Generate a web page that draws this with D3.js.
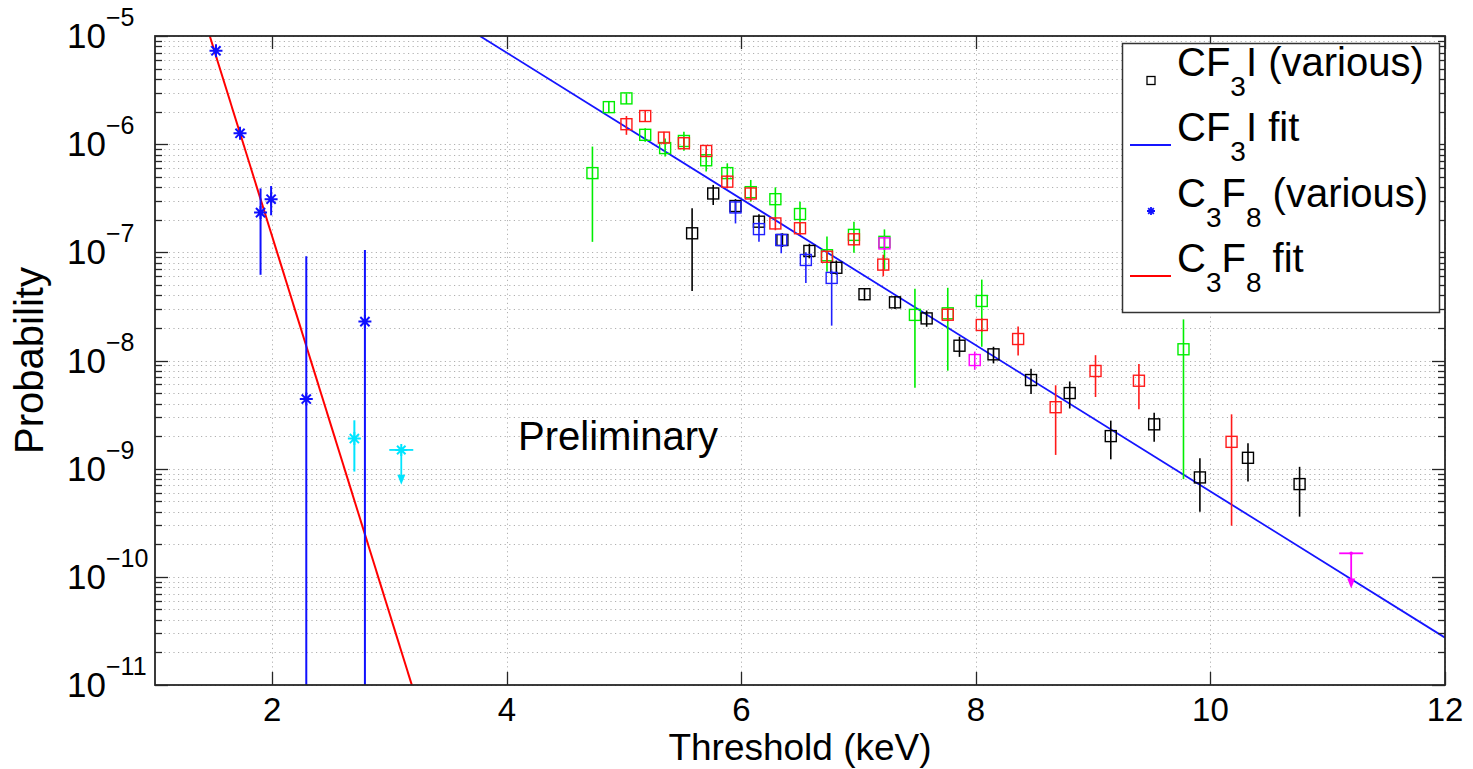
<!DOCTYPE html>
<html><head><meta charset="utf-8">
<script src="https://cdn.jsdelivr.net/npm/d3@7"></script>
<style>body{margin:0;background:#fff} svg{display:block} text{font-family:"Liberation Sans",Arial,Helvetica,sans-serif;fill:#000}</style>
</head><body><svg id="c" width="1473" height="769"></svg>
<script>
// ---------- data ----------
const xTicks = [2, 4, 6, 8, 10, 12];
const yTickExps = [-11, -10, -9, -8, -7, -6, -5];
const xLabel = "Threshold (keV)";
const yLabel = "Probability";
const note = "Preliminary";

// rows: [threshold keV, probability, error low, error high]
const cf3iGreen = [
  [4.73, 5.4e-7, 1.25e-7, 9.5e-7], [4.87, 2.2e-6, 1.95e-6, 2.45e-6], [5.02, 2.65e-6, 2.35e-6, 2.95e-6],
  [5.18, 1.22e-6, 1.05e-6, 1.4e-6], [5.35, 9.2e-7, 7.7e-7, 1.13e-6], [5.51, 1.07e-6, 8.7e-7, 1.3e-6],
  [5.70, 7.1e-7, 5.6e-7, 8.5e-7], [5.88, 5.4e-7, 4.05e-7, 6.65e-7], [6.08, 3.6e-7, 2.94e-7, 4.67e-7],
  [6.29, 3.1e-7, 1.99e-7, 3.99e-7], [6.50, 2.26e-7, 1.5e-7, 2.94e-7], [6.73, 9.4e-8, 6.6e-8, 1.4e-7],
  [6.96, 1.45e-7, 9.9e-8, 1.92e-7], [7.22, 1.25e-7, 6.9e-8, 1.63e-7], [7.48, 2.64e-8, 5.6e-9, 4.6e-8],
  [7.76, 2.73e-8, 8.05e-9, 4.7e-8], [8.05, 3.55e-8, 1.34e-8, 5.6e-8], [9.77, 1.27e-8, 8.0e-10, 2.4e-8]
];
const cf3iRed = [
  [5.02, 1.53e-6, 1.22e-6, 1.82e-6], [5.18, 1.82e-6, 1.6e-6, 2.05e-6], [5.34, 1.15e-6, 1.0e-6, 1.3e-6],
  [5.51, 1.02e-6, 9.0e-7, 1.15e-6], [5.70, 8.65e-7, 7.6e-7, 9.8e-7], [5.88, 4.5e-7, 3.9e-7, 5.2e-7],
  [6.08, 3.5e-7, 3.0e-7, 4.0e-7], [6.29, 1.85e-7, 1.6e-7, 2.1e-7], [6.50, 1.67e-7, 1.45e-7, 1.9e-7],
  [6.73, 9.1e-8, 8.0e-8, 1.03e-7], [6.96, 1.32e-7, 1.15e-7, 1.5e-7], [7.21, 7.7e-8, 6.0e-8, 9.5e-8],
  [7.76, 2.65e-8, 2.3e-8, 3.0e-8], [8.05, 2.13e-8, 1.85e-8, 2.45e-8], [8.36, 1.58e-8, 1.11e-8, 2.06e-8],
  [8.68, 3.7e-9, 1.34e-9, 5.9e-9], [9.02, 8.0e-9, 4.6e-9, 1.12e-8], [9.39, 6.5e-9, 3.54e-9, 9.3e-9],
  [10.18, 1.77e-9, 2.97e-10, 3.18e-9]
];
const cf3iBlack = [
  [5.58, 1.5e-7, 4.4e-8, 2.55e-7], [5.76, 3.5e-7, 2.74e-7, 4.2e-7], [5.95, 2.68e-7, 2.3e-7, 3.1e-7],
  [6.15, 1.92e-7, 1.65e-7, 2.25e-7], [6.35, 1.3e-7, 1.12e-7, 1.5e-7], [6.58, 1.03e-7, 8.8e-8, 1.2e-7],
  [6.81, 7.2e-8, 6.2e-8, 8.4e-8], [7.05, 4.1e-8, 3.6e-8, 4.6e-8], [7.31, 3.45e-8, 3.0e-8, 3.95e-8],
  [7.58, 2.45e-8, 2.05e-8, 2.9e-8], [7.86, 1.37e-8, 1.08e-8, 1.66e-8], [8.15, 1.14e-8, 9.4e-9, 1.34e-8],
  [8.47, 6.6e-9, 4.9e-9, 8.4e-9], [8.80, 5.0e-9, 3.6e-9, 6.4e-9], [9.15, 2.0e-9, 1.22e-9, 2.78e-9],
  [9.52, 2.57e-9, 1.77e-9, 3.29e-9], [9.91, 8.3e-10, 4.0e-10, 1.25e-9], [10.32, 1.26e-9, 7.6e-10, 1.72e-9],
  [10.76, 7.2e-10, 3.6e-10, 1.04e-9]
];
const cf3iBlue = [
  [5.95, 2.6e-7, 1.85e-7, 3.0e-7], [6.15, 1.64e-7, 1.25e-7, 1.9e-7], [6.34, 1.3e-7, 9.8e-8, 1.5e-7],
  [6.55, 8.5e-8, 5.2e-8, 1.0e-7], [6.77, 5.8e-8, 2.1e-8, 6.8e-8]
];
const cf3iMagenta = [
  [7.22, 1.21e-7, 1.05e-7, 1.4e-7], [7.99, 1.01e-8, 8.2e-9, 1.21e-8]
];
const c3f8Blue = [
  [1.52, 7.3e-6, 7.3e-6, 7.3e-6], [1.725, 1.26e-6, 1.26e-6, 1.26e-6], [1.90, 2.33e-7, 6.2e-8, 3.9e-7],
  [1.99, 3.1e-7, 2.2e-7, 4.1e-7], [2.29, 4.4e-9, 1e-12, 9.2e-8], [2.79, 2.29e-8, 1e-12, 1.05e-7]
];
const c3f8Cyan = [[2.70, 1.9e-9, 9.4e-10, 2.8e-9]];
// upper limits: [threshold, limit, arrow tip]
const c3f8CyanLimit = [[3.10, 1.49e-9, 7.1e-10]];
const cf3iMagentaLimit = [[11.20, 1.65e-10, 7.8e-11]];
// fit line end points: [threshold, probability]
const cf3iFit = [[3.77, 1e-5], [12, 2.74e-11]];
const c3f8Fit = [[1.467, 1e-5], [3.19, 1e-11]];

// ---------- drawing ----------
const L = 155, R = 1445, T = 36, B = 685;
const svg = d3.select("#c");
const x = d3.scaleLinear().domain([1, 12]).range([L, R]);
const y = d3.scaleLog().domain([1e-11, 1e-5]).range([B, T]);

svg.append("defs").append("clipPath").attr("id", "clip")
  .append("rect").attr("x", L).attr("y", T).attr("width", R - L).attr("height", B - T);

// grid
const grid = svg.append("g").attr("stroke", "#b0b0b0").attr("stroke-width", 1).attr("stroke-dasharray", "1.2,3.4");
const minorVals = [];
yTickExps.forEach(e => { for (let m = 1; m <= 9; m++) { const v = m * Math.pow(10, e); if (v <= 1.0001e-5 && v >= 0.9999e-11) minorVals.push(v); } });
grid.selectAll("line.h").data(minorVals).join("line")
  .attr("x1", L).attr("x2", R).attr("y1", d => Math.round(y(d)) + 0.5).attr("y2", d => Math.round(y(d)) + 0.5);
grid.selectAll("line.v").data(xTicks).join("line")
  .attr("x1", d => Math.round(x(d)) + 0.5).attr("x2", d => Math.round(x(d)) + 0.5).attr("y1", T).attr("y2", B);

const plot = svg.append("g").attr("clip-path", "url(#clip)");
const line = d3.line().x(d => x(d[0])).y(d => y(d[1]));

function errorBars(data, color, w) {
  plot.append("g").selectAll("line").data(data).join("line")
    .attr("x1", d => x(d[0])).attr("x2", d => x(d[0]))
    .attr("y1", d => y(d[2])).attr("y2", d => y(d[3]))
    .attr("stroke", color).attr("stroke-width", w || 1.6);
}
function squares(data, color) {
  errorBars(data, color);
  plot.append("g").selectAll("rect").data(data).join("rect")
    .attr("x", d => x(d[0]) - 5.5).attr("y", d => y(d[1]) - 5.5)
    .attr("width", 11).attr("height", 11)
    .attr("fill", "none").attr("stroke", color).attr("stroke-width", 1.4);
}
function starPath(r) {
  const a = r * Math.SQRT1_2;
  return `M${-r},0L${r},0M0,${-r}L0,${r}M${-a},${-a}L${a},${a}M${-a},${a}L${a},${-a}`;
}
function stars(data, color, r) {
  errorBars(data, color, 2);
  plot.append("g").selectAll("path").data(data).join("path")
    .attr("transform", d => `translate(${x(d[0])},${y(d[1])})`)
    .attr("d", starPath(r)).attr("stroke", color).attr("stroke-width", 2).attr("fill", "none");
}
function limits(data, color, withStar) {
  const g = plot.append("g");
  data.forEach(d => {
    const cx = x(d[0]), cy = y(d[1]), ty = y(d[2]);
    g.append("line").attr("x1", cx - 12).attr("x2", cx + 12).attr("y1", cy).attr("y2", cy).attr("stroke", color).attr("stroke-width", 1.8);
    g.append("line").attr("x1", cx).attr("x2", cx).attr("y1", cy).attr("y2", ty - 6).attr("stroke", color).attr("stroke-width", 1.8);
    g.append("path").attr("d", `M${cx - 4},${ty - 10}L${cx + 4},${ty - 10}L${cx},${ty}Z`).attr("fill", color);
    if (withStar) g.append("path").attr("transform", `translate(${cx},${cy})`).attr("d", starPath(6)).attr("stroke", color).attr("stroke-width", 2);
    else g.append("circle").attr("cx", cx).attr("cy", cy).attr("r", 1.8).attr("fill", color);
  });
}

// fits
plot.append("path").datum(cf3iFit).attr("d", line).attr("fill", "none").attr("stroke", "#1515ff").attr("stroke-width", 1.8);
plot.append("path").datum(c3f8Fit).attr("d", line).attr("fill", "none").attr("stroke", "#ff0000").attr("stroke-width", 2);

squares(cf3iGreen, "#00ee00");
squares(cf3iRed, "#ff1a1a");
squares(cf3iBlack, "#000000");
squares(cf3iBlue, "#2020ff");
squares(cf3iMagenta, "#ff00ff");
stars(c3f8Blue, "#1010ff", 6.5);
stars(c3f8Cyan, "#00e5ff", 6.5);
limits(c3f8CyanLimit, "#00e5ff", true);
limits(cf3iMagentaLimit, "#ff00ff", false);

// frame and ticks
const ax = svg.append("g").attr("stroke", "#262626").attr("stroke-width", 1.3);
ax.append("rect").attr("x", L).attr("y", T).attr("width", R - L).attr("height", B - T).attr("fill", "none").attr("stroke-width", 1.8);
xTicks.forEach(t => {
  const px = Math.round(x(t)) + 0.5;
  ax.append("line").attr("x1", px).attr("x2", px).attr("y1", B).attr("y2", B - 13);
  ax.append("line").attr("x1", px).attr("x2", px).attr("y1", T).attr("y2", T + 13);
});
minorVals.forEach(v => {
  const isMajor = Math.abs(Math.log10(v) - Math.round(Math.log10(v))) < 1e-6;
  const len = isMajor ? 13 : 7;
  const py = Math.round(y(v)) + 0.5;
  ax.append("line").attr("x1", L).attr("x2", L + len).attr("y1", py).attr("y2", py);
  ax.append("line").attr("x1", R).attr("x2", R - len).attr("y1", py).attr("y2", py);
});

// tick labels
svg.append("g").selectAll("text").data(xTicks).join("text")
  .attr("x", d => x(d)).attr("y", 721).attr("text-anchor", "middle")
  .attr("font-size", 33).text(d => d);
const yl = svg.append("g");
yTickExps.forEach(e => {
  const py = y(Math.pow(10, e));
  yl.append("text").attr("x", 106).attr("y", py + 12).attr("text-anchor", "end").attr("font-size", 35).text("10");
  yl.append("text").attr("x", 106).attr("y", py - 10).attr("text-anchor", "start").attr("font-size", 25).text("\u2212" + Math.abs(e));
});

// axis labels
svg.append("text").attr("x", (L + R) / 2).attr("y", 760).attr("text-anchor", "middle").attr("font-size", 37).text(xLabel);
svg.append("text").attr("transform", `translate(43,${(T + B) / 2}) rotate(-90)`).attr("text-anchor", "middle").attr("font-size", 40).text(yLabel);
svg.append("text").attr("x", 518).attr("y", 450).attr("font-size", 40).text(note);

// legend
const lg = svg.append("g");
lg.append("rect").attr("x", 1122.5).attr("y", 43.5).attr("width", 317).attr("height", 269)
  .attr("fill", "#fff").attr("stroke", "#333").attr("stroke-width", 1.5);
const legendRows = [
  { base: 76, parts: [["CF", 0], ["3", 1], ["I (various)", 0]], kind: "square", color: "#000" },
  { base: 141, parts: [["CF", 0], ["3", 1], ["I fit", 0]], kind: "line", color: "#1515ff" },
  { base: 207, parts: [["C", 0], ["3", 1], ["F", 0], ["8", 1], [" (various)", 0]], kind: "star", color: "#1010ff" },
  { base: 272, parts: [["C", 0], ["3", 1], ["F", 0], ["8", 1], [" fit", 0]], kind: "line", color: "#ff0000" }
];
legendRows.forEach(r => {
  const t = lg.append("text").attr("x", 1177).attr("y", r.base).attr("font-size", 40);
  let down = false;
  r.parts.forEach(p => {
    const ts = t.append("tspan").text(p[0]);
    if (p[1] && !down) { ts.attr("dy", 20).attr("font-size", 28); down = true; }
    else if (p[1]) { ts.attr("font-size", 28); }
    else if (down) { ts.attr("dy", -20); down = false; }
  });
  const my = r.base + 4;
  if (r.kind === "square") lg.append("rect").attr("x", 1147).attr("y", my - 3.5).attr("width", 8).attr("height", 8).attr("fill", "none").attr("stroke", r.color).attr("stroke-width", 1.3);
  if (r.kind === "line") lg.append("line").attr("x1", 1130).attr("x2", 1171).attr("y1", my).attr("y2", my).attr("stroke", r.color).attr("stroke-width", 1.8);
  if (r.kind === "star") lg.append("path").attr("transform", `translate(1151,${my})`).attr("d", starPath(4)).attr("stroke", r.color).attr("stroke-width", 1.8);
});
</script></body></html>
